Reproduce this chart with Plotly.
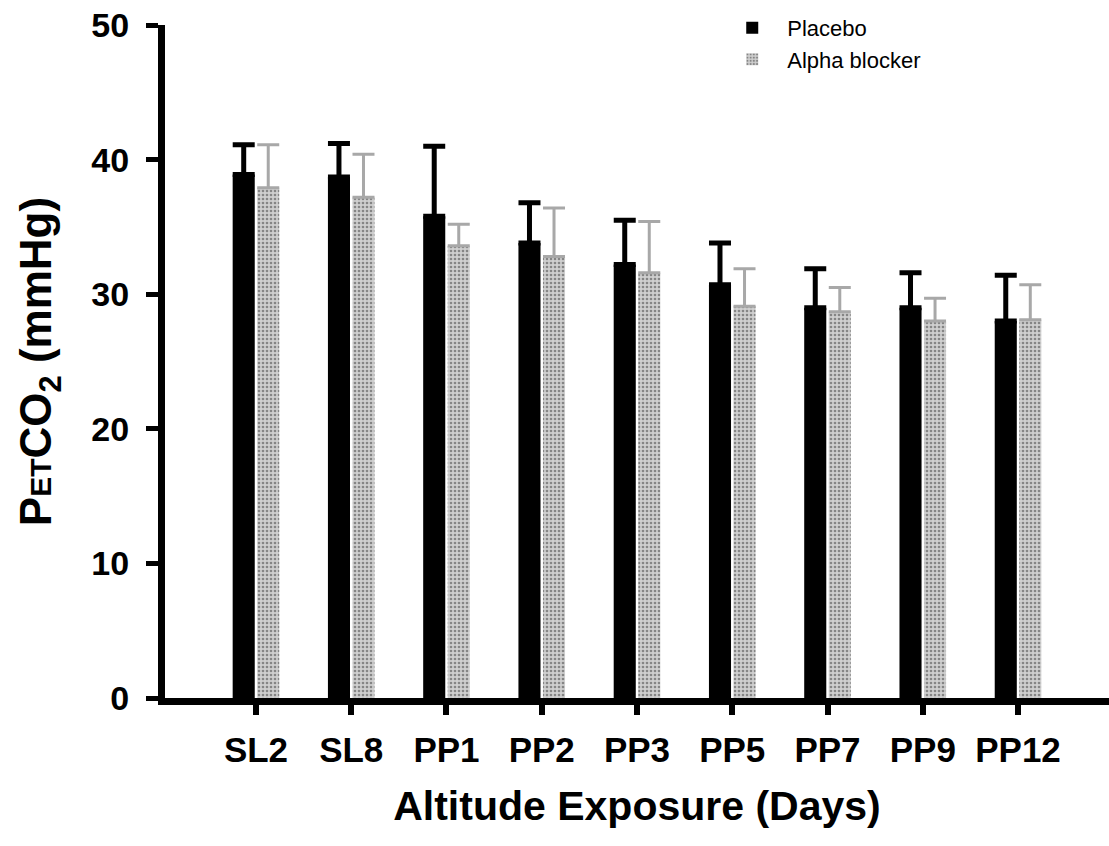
import plotly.graph_objects as go

categories = ["SL2", "SL8", "PP1", "PP2", "PP3", "PP5", "PP7", "PP9", "PP12"]
placebo = [38.9, 38.7, 35.8, 33.8, 32.2, 30.7, 29.0, 29.0, 28.0]
placebo_err = [2.2, 2.5, 5.2, 3.0, 3.3, 3.1, 2.9, 2.6, 3.4]
alpha = [37.9, 37.2, 33.6, 32.8, 31.6, 29.1, 28.7, 28.0, 28.1]
alpha_err = [3.2, 3.2, 1.6, 3.6, 3.8, 2.8, 1.8, 1.7, 2.6]
y_ticks = [0, 10, 20, 30, 40, 50]

FONT = "Liberation Sans, Arial, sans-serif"

fig = go.Figure()
fig.add_trace(go.Bar(
    name="Placebo", x=categories, y=placebo,
    marker=dict(color="black", line=dict(width=0)),
    error_y=dict(type="data", array=placebo_err, arrayminus=[0] * len(placebo_err),
                 symmetric=False, color="black", thickness=5, width=11),
))
fig.add_trace(go.Bar(
    name="Alpha blocker", x=categories, y=alpha,
    marker=dict(color="#c0c0c0", line=dict(width=0),
                pattern=dict(shape=".", fgcolor="#858585", bgcolor="#cfcfcf",
                             size=4, solidity=0.35, fillmode="replace")),
    error_y=dict(type="data", array=alpha_err, arrayminus=[0] * len(alpha_err),
                 symmetric=False, color="#a8a8a8", thickness=3, width=11),
))

fig.update_layout(
    width=1109, height=846,
    paper_bgcolor="white", plot_bgcolor="white",
    margin=dict(l=165, r=0, t=25, b=148),
    barmode="group", bargap=0.485, bargroupgap=0.1,
    font=dict(family=FONT, color="black"),
    showlegend=True,
    legend=dict(x=0.585, y=1.027, xanchor="left", yanchor="top",
                font=dict(size=22, family=FONT, color="black"),
                bgcolor="rgba(0,0,0,0)", tracegroupgap=0, itemwidth=60),
    xaxis=dict(
        range=[-0.955, 8.955], showline=True, linecolor="black", linewidth=7,
        ticks="outside", ticklen=10, tickwidth=6, tickcolor="black",
        tickfont=dict(size=35, family=FONT, color="black", weight="bold"),
        ticklabelstandoff=5, showgrid=False, zeroline=False,
        title=dict(text="Altitude Exposure (Days)",
                   font=dict(size=41, family=FONT, color="black", weight="bold"),
                   standoff=26),
    ),
    yaxis=dict(
        range=[0, 50], tickvals=y_ticks, showline=True, linecolor="black", linewidth=7,
        ticks="outside", ticklen=12, tickwidth=5, tickcolor="black",
        tickfont=dict(size=34, family=FONT, color="black", weight="bold"),
        ticklabelstandoff=10, showgrid=False, zeroline=False,
        title=dict(text="P<span style='font-size:30px'>ET</span>CO<sub>2</sub> (mmHg)",
                   font=dict(size=44, family=FONT, color="black", weight="bold"),
                   standoff=28),
    ),
)

fig.write_html("out.html")
